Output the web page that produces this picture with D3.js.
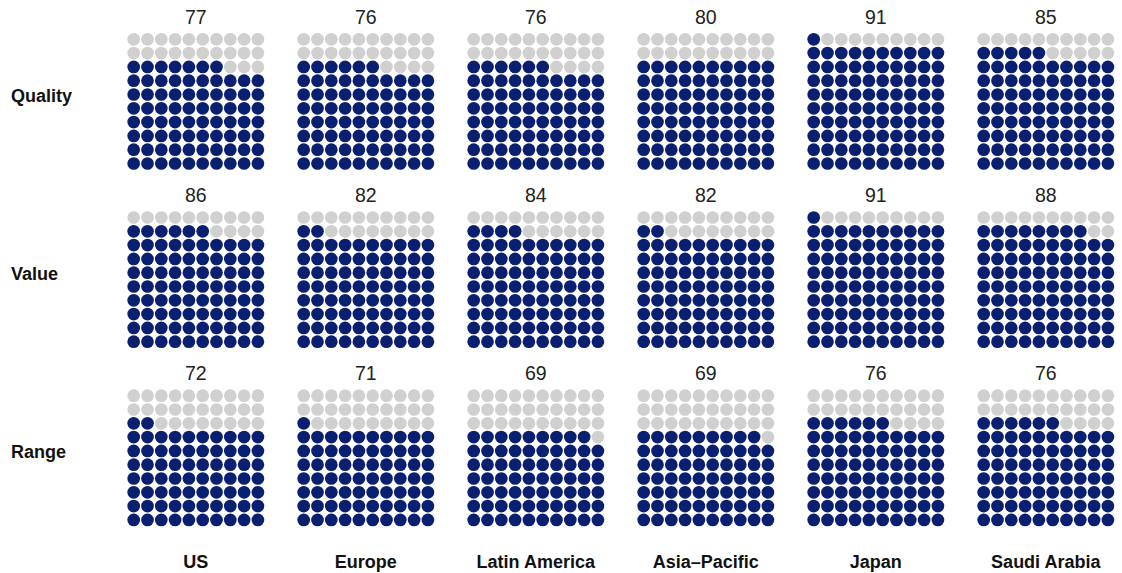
<!DOCTYPE html>
<html><head><meta charset="utf-8">
<script src="https://cdn.jsdelivr.net/npm/d3@7"></script>
<style>body{margin:0;background:#fff;}svg{display:block;}</style>
</head><body>
<svg id="c" width="1122" height="573"></svg>
<script>
const regions = ["US","Europe","Latin America","Asia\u2013Pacific","Japan","Saudi Arabia"];
const metrics = ["Quality","Value","Range"];
const quality = [77,76,76,80,91,85];
const value   = [86,82,84,82,91,88];
const range   = [72,71,69,69,76,76];
const seriesValues = [quality, value, range];

const W = 1122, H = 573;
const svg = d3.select("#c");
const FILL = "#0a1f6f", EMPTY = "#d0d0d0";
const step = 13.8, r = 6.35;

const xCol = d3.scalePoint().domain(regions).range([133.7, 983.7]);
const yRow = d3.scalePoint().domain(metrics).range([39.3, 395.7]);
const dotPos = d3.scaleLinear().domain([0, 9]).range([0, 9 * step]);

metrics.forEach((m, mi) => {
  const rowG = svg.append("g");
  rowG.append("text").attr("x", 11).attr("y", yRow(m) + 62.2 + 0)
    .attr("dy", "0.0em")
    .attr("transform", "translate(0,0)")
    .text(m)
    .attr("font-family", "Liberation Sans, Arial, sans-serif")
    .attr("font-weight", "bold").attr("font-size", 18).attr("fill", "#111")
    .attr("y", yRow(m) + 62.4);
  regions.forEach((reg, ri) => {
    const v = seriesValues[mi][ri];
    const g = svg.append("g").attr("transform", `translate(${xCol(reg)},${yRow(m)})`);
    const cells = d3.range(100).map(i => {
      const rowFromBottom = Math.floor(i / 10), col = i % 10;
      return { row: 9 - rowFromBottom, col, filled: i < v };
    });
    g.selectAll("circle").data(cells).join("circle")
      .attr("cx", d => dotPos(d.col)).attr("cy", d => dotPos(d.row))
      .attr("r", r).attr("fill", d => d.filled ? FILL : EMPTY);
    g.append("text").attr("x", dotPos(4.5)).attr("y", -15.3)
      .attr("text-anchor", "middle")
      .attr("font-family", "Liberation Sans, Arial, sans-serif")
      .attr("font-size", 19.5).attr("fill", "#222").text(v);
  });
});

regions.forEach(reg => {
  svg.append("text").attr("x", xCol(reg) + dotPos(4.5)).attr("y", 568)
    .attr("text-anchor", "middle")
    .attr("font-family", "Liberation Sans, Arial, sans-serif")
    .attr("font-weight", "bold").attr("font-size", 18).attr("fill", "#111")
    .text(reg);
});
</script>
</body></html>
